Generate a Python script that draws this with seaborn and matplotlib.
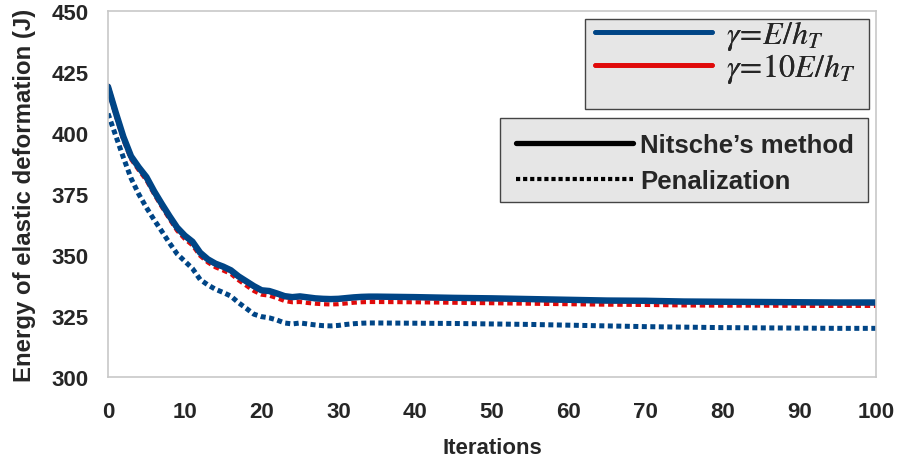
import matplotlib
matplotlib.use("Agg")
from matplotlib import pyplot as plt
from matplotlib.lines import Line2D
from matplotlib.patches import Rectangle
import pandas as pd
import seaborn as sns

# iterazioni: fitte all'inizio, poi ogni 5
iterations = list(range(0, 36)) + [40, 45, 50, 55, 60, 65, 70, 75, 80, 85, 90, 95, 100]

# Nitsche, gamma = E/h_T (blu continuo)
nitsche_e = [419.0, 408.5, 398.5, 390.5, 386.0, 382.0, 376.2, 371.0, 366.0, 361.3,
             358.0, 355.5, 351.0, 348.3, 346.5, 345.3, 343.8, 341.3, 339.3, 337.3,
             335.6, 335.3, 334.3, 333.2, 332.8, 333.1, 332.7, 332.3, 332.1, 332.0,
             332.1, 332.4, 332.7, 332.9, 333.0, 333.0,
             332.8, 332.5, 332.3, 332.0, 331.7, 331.4, 331.3, 331.0, 330.9, 330.8,
             330.7, 330.6, 330.6]

# Nitsche, gamma = 10E/h_T (rosso continuo, quasi coperto)
nitsche_10e = [419.3, 408.3, 398.2, 390.3, 385.8, 381.8, 376.0, 370.8, 365.8, 361.1,
               357.8, 355.3, 350.8, 348.1, 346.3, 345.1, 343.6, 341.1, 339.1, 337.1,
               335.4, 335.1, 334.1, 333.0, 332.6, 332.9, 332.5, 332.1, 331.9, 331.8,
               331.9, 332.2, 332.5, 332.7, 332.8, 332.8,
               332.6, 332.3, 332.1, 331.8, 331.5, 331.2, 331.1, 330.8, 330.7, 330.6,
               330.5, 330.4, 330.4]

# Penalizzazione, gamma = 10E/h_T (rosso puntinato)
pen_10e = [418.0, 407.3, 397.2, 389.3, 384.8, 380.7, 375.0, 369.8, 364.8, 360.0,
           356.6, 354.0, 349.7, 347.0, 345.0, 343.7, 342.3, 339.7, 337.5, 335.3,
           333.8, 333.4, 332.4, 331.2, 330.7, 330.8, 330.4, 330.1, 329.9, 329.8,
           329.9, 330.2, 330.5, 330.7, 330.8, 330.8,
           330.7, 330.5, 330.3, 330.1, 329.9, 329.7, 329.6, 329.4, 329.3, 329.3,
           329.2, 329.2, 329.2]

# Penalizzazione, gamma = E/h_T (blu puntinato)
pen_e = [408.0, 399.0, 390.0, 381.5, 375.0, 369.5, 364.5, 359.8, 355.0, 350.5,
         347.5, 344.5, 340.0, 337.8, 336.0, 334.7, 333.2, 330.5, 328.2, 325.8,
         324.8, 324.3, 323.4, 322.2, 321.8, 322.2, 321.8, 321.4, 321.1, 321.0,
         321.2, 321.6, 321.9, 322.1, 322.2, 322.2,
         322.1, 322.0, 321.8, 321.6, 321.3, 321.0, 320.7, 320.5, 320.3, 320.2,
         320.1, 320.0, 320.0]

x_ticks = [0, 10, 20, 30, 40, 50, 60, 70, 80, 90, 100]
y_ticks = [300, 325, 350, 375, 400, 425, 450]

BLUE = "#004586"
RED = "#e00a0a"
W, H = 900, 464

sns.set_style("white")
plt.rcParams["font.family"] = ["Liberation Sans", "DejaVu Sans"]
plt.rcParams["mathtext.fontset"] = "stix"

df = pd.DataFrame({
    "it": iterations,
    "nitsche_e": nitsche_e,
    "nitsche_10e": nitsche_10e,
    "pen_10e": pen_10e,
    "pen_e": pen_e,
})

fig = plt.figure(figsize=(9, 4.64), dpi=100)
ax = fig.add_axes([0.12, 0.185, 0.8533, 0.789])

sns.lineplot(data=df, x="it", y="pen_10e", ax=ax, color=RED, lw=3.0,
             linestyle=(0, (1.3, 0.9)), legend=False)
sns.lineplot(data=df, x="it", y="nitsche_10e", ax=ax, color=RED, lw=3.6, legend=False)
sns.lineplot(data=df, x="it", y="pen_e", ax=ax, color=BLUE, lw=3.6,
             linestyle=(0, (1.0, 0.7)), legend=False)
sns.lineplot(data=df, x="it", y="nitsche_e", ax=ax, color=BLUE, lw=4.6, legend=False)
for l in ax.lines:
    l.set_dash_capstyle("butt")

ax.set_xlim(0, 100)
ax.set_ylim(300, 450)
ax.set_xticks(x_ticks)
ax.set_yticks(y_ticks)
ax.tick_params(axis="both", direction="out", length=8, width=1, color="#c0c0c0",
               labelsize=16)
ax.tick_params(axis="x", pad=9)
ax.tick_params(axis="y", pad=6)
for lab in ax.get_xticklabels() + ax.get_yticklabels():
    lab.set_fontweight("bold")
for s in ax.spines.values():
    s.set_color("#c8c8c8")
    s.set_linewidth(1.2)

ax.set_xlabel("Iterations", fontsize=16, fontweight="bold", labelpad=11)
ax.set_ylabel("Energy of elastic deformation (J)", fontsize=17.3, fontweight="bold",
              labelpad=11)

# riquadri grigi delle legende
for (x0, y0, x1, y1) in [(585, 20, 869, 110), (500, 119, 868, 203)]:
    fig.add_artist(Rectangle((x0 / W, 1 - y1 / H), (x1 - x0) / W, (y1 - y0) / H,
                             transform=fig.transFigure, facecolor="#e6e6e6",
                             edgecolor="#444444", lw=1.0, zorder=4))

# legenda colori (gamma)
h1 = [Line2D([], [], color=BLUE, lw=3.4), Line2D([], [], color=RED, lw=3.4)]
leg1 = fig.legend(h1, [r"$\gamma\!=\!E/h_T$", r"$\gamma\!=\!10E/h_T$"],
                  loc="center left", bbox_to_anchor=(595 / W, 1 - 53 / H),
                  prop={"size": 23, "weight": "normal"}, frameon=False,
                  handlelength=3.66, handletextpad=0.45, labelspacing=-0.05,
                  borderpad=0, borderaxespad=0)
leg1.set_zorder(6)

# legenda stile (metodo)
h2 = [Line2D([], [], color="black", lw=3.8),
      Line2D([], [], color="black", lw=3.0, linestyle=(0, (1.0, 0.7)),
             dash_capstyle="butt")]
leg2 = fig.legend(h2, ["Nitsche\u2019s method", "Penalization"],
                  loc="center left", bbox_to_anchor=(516 / W, 1 - 164 / H),
                  prop={"size": 18.5, "weight": "bold"}, frameon=False,
                  handlelength=4.55, handletextpad=0.27, labelspacing=0.43,
                  borderpad=0, borderaxespad=0)
leg2.set_zorder(6)
fig.add_artist(leg1)

fig.savefig("out.png", dpi=100)
